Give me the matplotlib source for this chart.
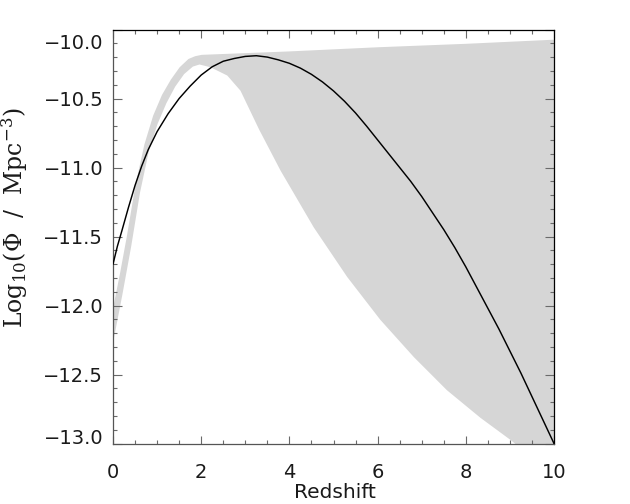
import numpy as np
import matplotlib
matplotlib.use("Agg")
import matplotlib.pyplot as plt
from matplotlib.ticker import MultipleLocator, FixedLocator
import matplotlib.transforms as mtransforms

# ---- data ----
z_model = [0.0, 0.1, 0.2, 0.35, 0.5, 0.65, 0.8, 1.0, 1.25, 1.5, 1.75, 2.0,
           2.25, 2.5, 2.75, 3.0, 3.25, 3.5, 3.75, 4.0, 4.25, 4.5, 4.75, 5.0,
           5.25, 5.5, 5.75, 6.0, 6.25, 6.5, 6.75, 7.0, 7.25, 7.5, 7.75, 8.0,
           8.25, 8.5, 8.75, 9.0, 9.25, 9.5, 9.75, 10.0]
logphi_model = [-11.70, -11.57, -11.46, -11.29, -11.13, -10.99, -10.87, -10.74,
                -10.61, -10.50, -10.41, -10.33, -10.27, -10.23, -10.21, -10.195,
                -10.19, -10.20, -10.22, -10.245, -10.28, -10.325, -10.38, -10.445,
                -10.52, -10.605, -10.70, -10.80, -10.90, -11.00, -11.10, -11.21,
                -11.33, -11.45, -11.58, -11.72, -11.87, -12.02, -12.17, -12.33,
                -12.49, -12.66, -12.83, -13.00]

z_upper = [0.0, 0.15, 0.3, 0.5, 0.7, 0.9, 1.1, 1.3, 1.5, 1.7, 1.85, 2.0,
           4.0, 6.0, 8.0, 10.0]
logphi_upper = [-12.00, -11.76, -11.50, -11.12, -10.83, -10.62, -10.47, -10.36,
                -10.27, -10.21, -10.19, -10.18, -10.155, -10.125, -10.10, -10.07]

z_lower = [0.0, 0.2, 0.4, 0.6, 0.8, 1.0, 1.2, 1.4, 1.6, 1.8, 1.95, 2.2, 2.58,
           2.88, 3.3, 3.79, 4.54, 5.3, 6.05, 6.81, 7.56, 8.32, 9.0, 9.5, 10.0]
logphi_lower = [-12.25, -11.92, -11.57, -11.18, -10.88, -10.68, -10.53, -10.41,
                -10.32, -10.265, -10.25, -10.27, -10.33, -10.44, -10.72, -11.02,
                -11.43, -11.79, -12.10, -12.37, -12.61, -12.81, -12.97, -13.10,
                -13.20]

x_ticks = [0, 2, 4, 6, 8, 10]
y_ticks = [-13.0, -12.5, -12.0, -11.5, -11.0, -10.5, -10.0]

plt.rcParams["mathtext.fontset"] = "dejavuserif"

# ---- figure ----
fig = plt.figure(figsize=(6.3, 5.04), dpi=100)
ax = fig.add_axes([113/630, 1 - 443.5/504, 441/630, 414/504])

# shaded band: common grid for both envelopes
zz = np.union1d(z_upper, z_lower)
up = np.interp(zz, z_upper, logphi_upper)
lo = np.interp(zz, z_lower, logphi_lower)
ax.fill_between(zz, lo, up, color="#d6d6d6", linewidth=0, zorder=1)

ax.plot(z_model, logphi_model, color="black", lw=1.05, zorder=3)

ax.set_xlim(0, 10)
ax.set_ylim(-13.0, -10.0)

ax.xaxis.set_major_locator(FixedLocator(x_ticks))
ax.xaxis.set_minor_locator(MultipleLocator(0.5))
ax.yaxis.set_major_locator(FixedLocator(y_ticks))
ax.yaxis.set_minor_locator(MultipleLocator(0.1))

tick_col = "#6a6a6a"
ax.tick_params(axis="both", which="both", direction="in", top=True, right=True,
               color=tick_col, width=0.8)
ax.tick_params(axis="y", which="major", length=6.5)
ax.tick_params(axis="y", which="minor", length=3.2)
ax.tick_params(axis="x", which="major", length=5.6)
ax.tick_params(axis="x", which="minor", length=2.8)
ax.tick_params(axis="x", which="major", pad=14, labelsize=14, labelcolor="#1a1a1a")
ax.tick_params(axis="y", which="major", pad=7, labelsize=14, labelcolor="#1a1a1a")

ax.set_xticklabels([str(v) for v in x_ticks])
ylabels = []
for v in y_ticks:
    if v in (-13.0, -10.0):
        ylabels.append("")
    else:
        ylabels.append("\u2212%.1f" % abs(v))
ax.set_yticklabels(ylabels)

# end labels placed slightly inward, as in the reference
blend = mtransforms.blended_transform_factory(ax.transAxes, ax.transData)
lx = -9.5 / 441
ax.text(lx, -10.1, "\u221210.0", transform=blend, ha="right", va="center",
        fontsize=14, color="#1a1a1a")
ax.text(lx, -12.962, "\u221213.0", transform=blend, ha="right", va="center",
        fontsize=14, color="#1a1a1a")

for side in ("left", "bottom"):
    ax.spines[side].set_color("#555555")
for side in ("top", "right"):
    ax.spines[side].set_color("black")
for s in ax.spines.values():
    s.set_linewidth(0.9)

fig.text(335/630, 1 - 498.5/504, "Redshift", ha="center", va="baseline",
         fontsize=14.5, color="#1a1a1a")
fig.text(15/630, 1 - 217.5/504, r"Log$_{10}$($\Phi$  /  Mpc$^{-3}$)",
         rotation=90, ha="center", va="center", fontsize=17,
         family="DejaVu Serif", color="#1a1a1a")

fig.savefig("out.png", dpi=100)
